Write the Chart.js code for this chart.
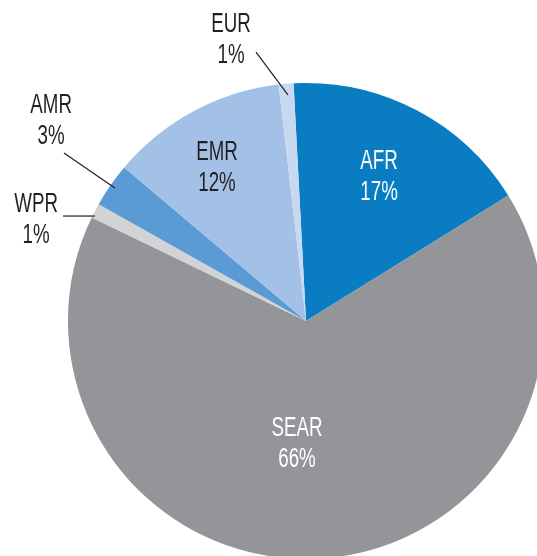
<!DOCTYPE html>
<html>
<head>
<meta charset="utf-8">
<script src="https://cdn.jsdelivr.net/npm/chart.js@4.4.0/dist/chart.umd.min.js"></script>
<style>
    html, body { margin: 0; padding: 0; background: #ffffff; }
    #wrap { position: relative; width: 537px; height: 556px; overflow: hidden; }
    #wrap canvas { position: absolute; left: 0; top: 0; }
</style>
</head>
<body>
<div id="wrap"><canvas id="pie-chart" width="560" height="570"></canvas></div>
<script>
// Regions and their share of the total (%)
const regions = ['AFR', 'SEAR', 'WPR', 'AMR', 'EMR', 'EUR'];
const shares = [17, 66, 1, 3, 12, 1];

const sliceColors = ['#0a7cc2', '#939598', '#d1d3d4', '#5b9bd5', '#a3c0e6', '#c9d8f1'];

// Label placement in units of the pie radius, relative to the centre
const labelSpots = {
    AFR:  { x: 0.307,  y: -0.603, color: '#ffffff' },
    SEAR: { x: -0.038, y: 0.517,  color: '#ffffff' },
    WPR:  { x: -1.134, y: -0.426, color: '#231f20', line: [-1.021, -0.441, -0.887, -0.441] },
    AMR:  { x: -1.071, y: -0.840, color: '#231f20', line: [-1.017, -0.706, -0.803, -0.559] },
    EMR:  { x: -0.374, y: -0.641, color: '#231f20' },
    EUR:  { x: -0.315, y: -1.181, color: '#231f20', line: [-0.210, -1.130, -0.076, -0.950] },
};

const FONT_SIZE = 27;
const FONT_STACK = "'Liberation Sans Narrow', 'Liberation Sans', Arial, sans-serif";

// Draws the name / percent labels and the leader lines
const sliceLabels = {
    id: 'sliceLabels',
    afterDatasetsDraw(chart) {
        const arc = chart.getDatasetMeta(0).data[0];
        if (!arc) return;
        const cx = arc.x, cy = arc.y, R = arc.outerRadius;
        const ctx = chart.ctx;
        ctx.save();
        ctx.font = `${FONT_SIZE}px ${FONT_STACK}`;
        // squeeze the face to look like the condensed original
        const squeeze = Math.min(1, 51 / ctx.measureText('SEAR').width);
        const lineGap = 31;

        regions.forEach((name, i) => {
            const spot = labelSpots[name];
            if (spot.line) {
                const [x1, y1, x2, y2] = spot.line;
                ctx.beginPath();
                ctx.moveTo(cx + x1 * R, cy + y1 * R);
                ctx.lineTo(cx + x2 * R, cy + y2 * R);
                ctx.strokeStyle = '#231f20';
                ctx.lineWidth = 1.2;
                ctx.stroke();
            }
            const px = cx + spot.x * R;
            const py = cy + spot.y * R;
            ctx.save();
            ctx.translate(px, py);
            ctx.scale(squeeze, 1);
            ctx.fillStyle = spot.color;
            ctx.textAlign = 'center';
            ctx.textBaseline = 'middle';
            ctx.fillText(name, 0, -lineGap / 2);
            ctx.fillText(`${shares[i]}%`, 0, lineGap / 2);
            ctx.restore();
        });
        ctx.restore();
    }
};

const ctx = document.getElementById('pie-chart').getContext('2d');
new Chart(ctx, {
    type: 'pie',
    data: {
        labels: regions,
        datasets: [{
            data: shares,
            backgroundColor: sliceColors,
            borderWidth: 0,
        }],
    },
    options: {
        responsive: false,
        animation: false,
        rotation: -3,
        layout: { padding: { left: 68, top: 83, right: 16, bottom: 11 } },
        plugins: {
            legend: { display: false },
            tooltip: { enabled: false },
        },
    },
    plugins: [sliceLabels],
});
</script>
</body>
</html>
